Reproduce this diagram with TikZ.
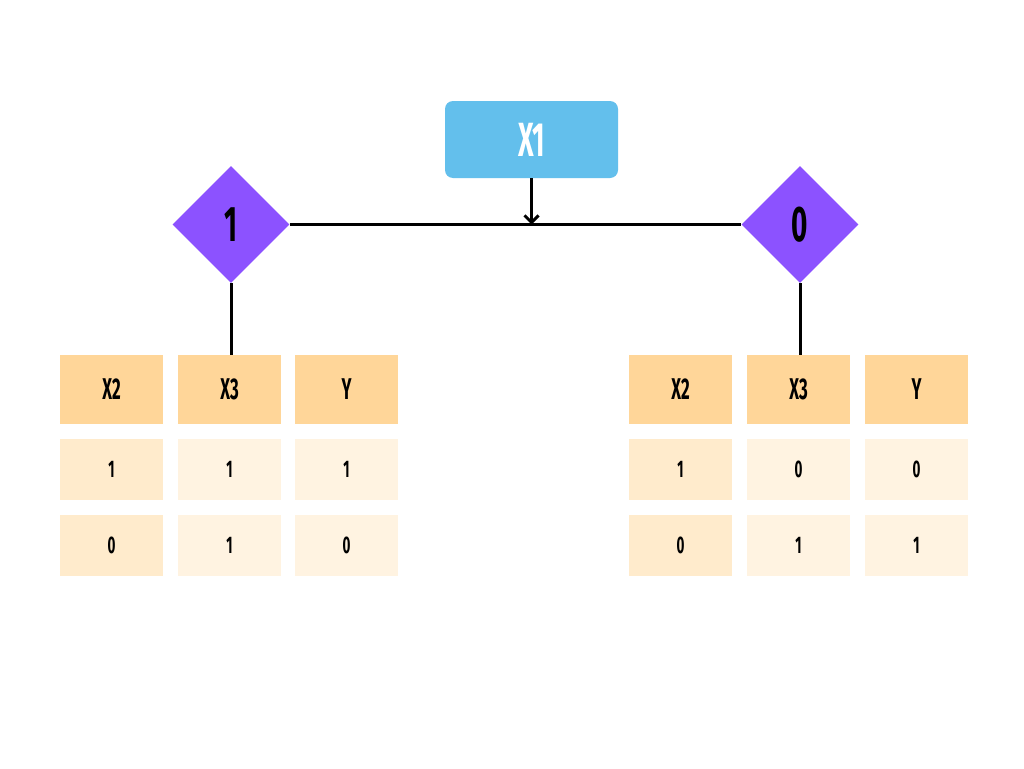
\documentclass[tikz,border=0pt]{standalone}
\usepackage{fontspec}
\newfontfamily\cond{Fira Sans}[FakeStretch=0.56]
\usetikzlibrary{shapes.geometric,arrows.meta}
\definecolor{bluebox}{HTML}{63BFEC}
\definecolor{purp}{HTML}{8C52FF}
\definecolor{headc}{HTML}{FFD699}
\definecolor{cellA}{HTML}{FFEBCC}
\definecolor{cellB}{HTML}{FFF3E1}
\tikzset{
  conn/.style={line width=3pt,black},
  cellbase/.style={rectangle,inner sep=0pt,minimum width=103pt,font=\cond\bfseries},
  headcell/.style={cellbase,fill=headc,minimum height=69pt,font=\cond\bfseries\fontsize{30}{32}\selectfont},
  cella/.style={cellbase,fill=cellA,minimum height=61pt,font=\cond\bfseries\fontsize{24}{26}\selectfont},
  cellb/.style={cellbase,fill=cellB,minimum height=61pt,font=\cond\bfseries\fontsize{24}{26}\selectfont},
  dia/.style={diamond,fill=purp,inner sep=0pt,minimum width=117pt,minimum height=117pt,font=\cond\bfseries\fontsize{50}{52}\selectfont},
  topbox/.style={rectangle,rounded corners=8pt,fill=bluebox,text=white,minimum width=173pt,minimum height=77pt,inner sep=0pt,font=\cond\bfseries\fontsize{48}{50}\selectfont}
}
\begin{document}
\begin{tikzpicture}[x=1pt,y=-1pt]
\useasboundingbox[fill=white] (0,0) rectangle (1024,768);
\node[topbox] (x1) at (531.5,139.5) {X1};
\node[dia] (d1) at (231,224.5) {1};
\node[dia] (d0) at (800,224.5) {0};
% left table
\node[headcell] (lh1) at (111.5,389.5) {X2};
\node[headcell] (lh2) at (229.5,389.5) {X3};
\node[headcell] (lh3) at (346.5,389.5) {Y};
\node[cella] (la1) at (111.5,469.5) {1};
\node[cellb] (la2) at (229.5,469.5) {1};
\node[cellb] (la3) at (346.5,469.5) {1};
\node[cella] (lb1) at (111.5,545.5) {0};
\node[cellb] (lb2) at (229.5,545.5) {1};
\node[cellb] (lb3) at (346.5,545.5) {0};
% right table
\node[headcell] (rh1) at (680.5,389.5) {X2};
\node[headcell] (rh2) at (798.5,389.5) {X3};
\node[headcell] (rh3) at (916.5,389.5) {Y};
\node[cella] (ra1) at (680.5,469.5) {1};
\node[cellb] (ra2) at (798.5,469.5) {0};
\node[cellb] (ra3) at (916.5,469.5) {0};
\node[cella] (rb1) at (680.5,545.5) {0};
\node[cellb] (rb2) at (798.5,545.5) {1};
\node[cellb] (rb3) at (916.5,545.5) {1};
% connectors
\coordinate (j) at (531.5,224.5);
\draw[conn] (d1.east) -- (d0.west);
\draw[conn,-{Straight Barb[length=7pt,width=14pt,line width=3pt]}] (x1.south) -- (j);
\draw[conn] (d1.south) -- (d1.south |- lh2.north);
\draw[conn] (d0.south) -- (d0.south |- rh2.north);
\end{tikzpicture}
\end{document}
